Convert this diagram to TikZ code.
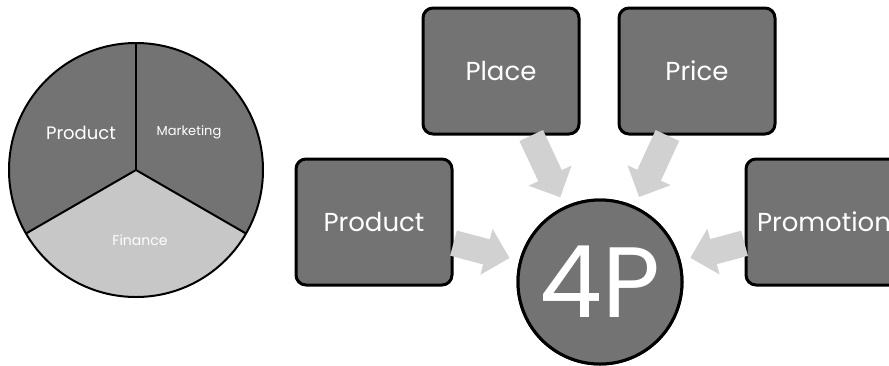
\documentclass[tikz,border=0pt]{standalone}
\usepackage{fontspec}
\setmainfont{Poppins}
\usetikzlibrary{arrows.meta}
\definecolor{darkfill}{gray}{0.45}
\definecolor{lightfill}{gray}{0.78}
\definecolor{arrowfill}{gray}{0.82}
\tikzset{
  boxnode/.style={draw=black, line width=3pt, fill=darkfill, rounded corners=10pt,
    minimum width=156pt, minimum height=126pt, inner sep=0pt,
    text=white, font=\fontsize{26}{30}\selectfont},
  hubnode/.style={draw=black, line width=3pt, fill=darkfill, circle,
    minimum size=164pt, inner sep=0pt, text=white, font=\fontsize{100}{110}\selectfont},
  bigarrow/.style={draw=arrowfill, line width=26pt,
    -{Triangle[length=24pt,width=46pt]}, shorten >=10pt},
  pieseg/.style={draw=black, line width=2pt},
  pielabel/.style={text=white, inner sep=0pt}
}
\begin{document}
\begin{tikzpicture}[x=1pt,y=-1pt]
\useasboundingbox (0,0) rectangle (889,365);
\begin{scope}
\clip (0,0) rectangle (889,365);
% pie (y axis points down, so angles run clockwise on the page)
\coordinate (pc) at (136,170);
\fill[darkfill] (pc) -- ++(150:127) arc[start angle=150,end angle=270,radius=127] -- cycle;
\fill[darkfill] (pc) -- ++(270:127) arc[start angle=270,end angle=390,radius=127] -- cycle;
\fill[lightfill] (pc) -- ++(30:127) arc[start angle=30,end angle=150,radius=127] -- cycle;
\draw[pieseg] (pc) circle[radius=127];
\draw[pieseg] (pc) -- ++(270:127);
\draw[pieseg] (pc) -- ++(150:127);
\draw[pieseg] (pc) -- ++(30:127);
\node[pielabel, font=\fontsize{18}{20}\selectfont] (lprod) at (81,133) {Product};
\node[pielabel, font=\fontsize{13}{15}\selectfont] (lmark) at (189,132) {Marketing};
\node[pielabel, font=\fontsize{14}{16}\selectfont] (lfin) at (140,240) {Finance};
% boxes
\node[boxnode] (place) at (501,71) {Place};
\node[boxnode] (price) at (697,71) {Price};
\node[boxnode] (product) at (374,222) {Product};
\node[boxnode] (promo) at (824,222) {Promotion};
\node[hubnode] (fp) at (600,282) {4P};
% arrows
\draw[bigarrow] (place) -- (fp);
\draw[bigarrow] (price) -- (fp);
\draw[bigarrow] (product) -- (fp);
\draw[bigarrow] (promo) -- (fp);
% redraw hub over arrows
\node[hubnode] at (600,282) {4P};
\end{scope}
\end{tikzpicture}
\end{document}
